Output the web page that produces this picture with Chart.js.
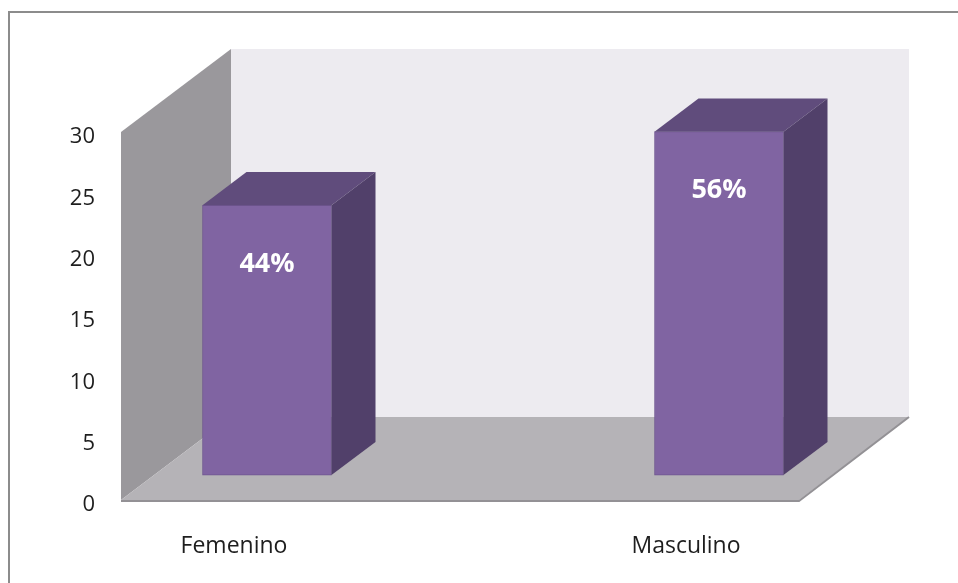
<!DOCTYPE html>
<html>
<head>
<meta charset="utf-8">
<script src="https://cdn.jsdelivr.net/npm/chart.js@4.4.1/dist/chart.umd.min.js"></script>
<style>
  html, body { margin: 0; padding: 0; background: #ffffff; }
  #wrap { width: 958px; height: 583px; position: relative; }
</style>
</head>
<body>
<div id="wrap"><canvas id="chart" width="958" height="583"></canvas></div>
<script>
// Respondents by sex
const categories = ['Femenino', 'Masculino'];
const counts = [22, 28];
const yTicks = { min: 0, max: 30, step: 5 };

const total = counts.reduce((a, b) => a + b, 0);

// 3D box geometry (pixels): full depth of the floor, bar depth and bar position in depth
const DEPTH_DX = 110, DEPTH_DY = -83;
const BAR_POS = 0.3, BAR_DEPTH = 0.4;

const COLORS = {
  backWall: '#EDEBF0',
  sideWall: '#9A989C',
  floor: '#B5B3B7',
  floorEdge: '#939195',
  front: '#8064A2',
  top: '#604C7C',
  side: '#51406A',
  frame: '#8C8C8C'
};

function poly(ctx, pts, fill) {
  ctx.beginPath();
  ctx.moveTo(pts[0][0], pts[0][1]);
  for (let i = 1; i < pts.length; i++) ctx.lineTo(pts[i][0], pts[i][1]);
  ctx.closePath();
  ctx.fillStyle = fill;
  ctx.fill();
}

const box3d = {
  id: 'box3d',
  beforeDraw(chart) {
    const { ctx, width, height } = chart;
    ctx.save();
    ctx.fillStyle = '#ffffff';
    ctx.fillRect(0, 0, width, height);
    // outer frame (top and left edges)
    ctx.strokeStyle = COLORS.frame;
    ctx.lineWidth = 2;
    ctx.beginPath();
    ctx.moveTo(9, height);
    ctx.lineTo(9, 12);
    ctx.lineTo(width, 12);
    ctx.stroke();
    ctx.restore();
  },
  beforeDatasetsDraw(chart) {
    const { ctx } = chart;
    const y = chart.scales.y;
    const x = chart.scales.x;
    const L = x.left, R = x.right;
    const T = y.getPixelForValue(yTicks.max), B = y.getPixelForValue(yTicks.min);
    ctx.save();
    // back wall
    poly(ctx, [[L + DEPTH_DX, T + DEPTH_DY], [R + DEPTH_DX, T + DEPTH_DY],
               [R + DEPTH_DX, B + DEPTH_DY], [L + DEPTH_DX, B + DEPTH_DY]], COLORS.backWall);
    // side wall
    poly(ctx, [[L, T], [L + DEPTH_DX, T + DEPTH_DY], [L + DEPTH_DX, B + DEPTH_DY], [L, B]], COLORS.sideWall);
    // floor
    poly(ctx, [[L, B], [R, B], [R + DEPTH_DX, B + DEPTH_DY], [L + DEPTH_DX, B + DEPTH_DY]], COLORS.floor);
    ctx.strokeStyle = COLORS.floorEdge;
    ctx.lineWidth = 2;
    ctx.beginPath();
    ctx.moveTo(L, B + 1);
    ctx.lineTo(R, B + 1);
    ctx.lineTo(R + DEPTH_DX, B + DEPTH_DY);
    ctx.stroke();
    ctx.restore();
    // bars stand part-way into the depth
    ctx.save();
    ctx.translate(DEPTH_DX * BAR_POS, DEPTH_DY * BAR_POS);
  },
  afterDatasetsDraw(chart) {
    const { ctx } = chart;
    const meta = chart.getDatasetMeta(0);
    const dx = DEPTH_DX * BAR_DEPTH, dy = DEPTH_DY * BAR_DEPTH;
    meta.data.forEach((bar, i) => {
      const p = bar.getProps(['x', 'y', 'base', 'width'], true);
      const x0 = p.x - p.width / 2, x1 = p.x + p.width / 2;
      poly(ctx, [[x0, p.y], [x1, p.y], [x1 + dx, p.y + dy], [x0 + dx, p.y + dy]], COLORS.top);
      poly(ctx, [[x1, p.y], [x1 + dx, p.y + dy], [x1 + dx, p.base + dy], [x1, p.base]], COLORS.side);
      const pct = Math.round(counts[i] / total * 100) + '%';
      ctx.fillStyle = '#ffffff';
      ctx.font = 'bold 27px "Open Sans"';
      ctx.textAlign = 'center';
      ctx.textBaseline = 'middle';
      ctx.fillText(pct, p.x, p.y + 59);
    });
    ctx.restore();
  }
};

new Chart(document.getElementById('chart'), {
  type: 'bar',
  data: {
    datasets: [{
      data: categories.map((c, i) => ({ x: i, y: counts[i] })),
      backgroundColor: COLORS.front,
      borderColor: '#6F5690',
      borderWidth: 1,
      borderSkipped: false,
      barThickness: 129,
      clip: false
    }]
  },
  options: {
    responsive: false,
    animation: false,
    events: [],
    layout: { padding: { left: 61, right: 159, top: 132, bottom: 23 } },
    plugins: { legend: { display: false }, tooltip: { enabled: false } },
    scales: {
      x: {
        type: 'linear',
        min: -0.25,
        max: 1.25,
        bounds: 'data',
        offset: false,
        afterBuildTicks(s) { s.ticks = categories.map((c, i) => ({ value: i })); },
        afterFit(s) { s.height = 60; },
        grid: { display: false, drawTicks: false },
        border: { display: false },
        ticks: {
          autoSkip: false,
          maxRotation: 0,
          padding: 33,
          color: '#1E1E1E',
          font: { family: '"Open Sans"', size: 23 },
          callback: v => categories[v] !== undefined ? categories[v] : ''
        }
      },
      y: {
        min: yTicks.min,
        max: yTicks.max,
        afterFit(s) { s.width = 60; },
        grid: { display: false, drawTicks: false },
        border: { display: false },
        ticks: {
          stepSize: yTicks.step,
          padding: 26,
          labelOffset: 5,
          color: '#1E1E1E',
          font: { family: '"Open Sans"', size: 22 }
        }
      }
    }
  },
  plugins: [box3d]
});
</script>
</body>
</html>
